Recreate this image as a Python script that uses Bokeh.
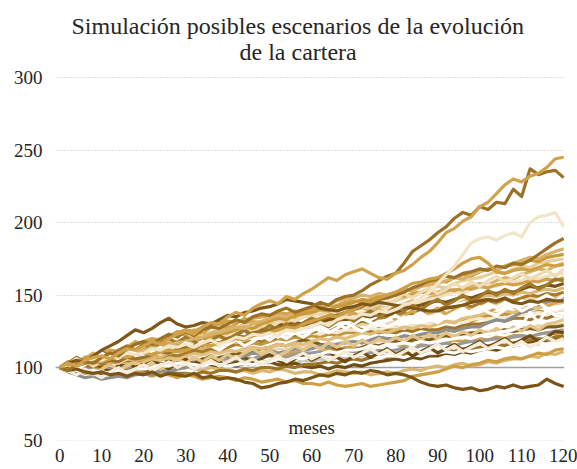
from bokeh.plotting import figure
from bokeh.models import Range1d, Span, Label, FixedTicker
from bokeh.embed import file_html
from bokeh.resources import INLINE

# months (every 2 months) 0..120
meses = list(range(0, 121, 2))

esc01 = [100,103,101,105,107, 108,106,110,113,112, 115,118,116,120,123, 125,123,128,131,130, 135,138,136,141,144, 146,144,149,147,151,
         154,158,162,160,164, 166,168,165,162,161, 165,167,171,176,180, 186,193,196,201,204, 211,214,220,226,230, 228,232,234,238,244, 245]
esc02 = [100,98,102,104,103, 107,110,108,113,116, 118,116,120,123,121, 125,122,126,128,127, 130,133,131,135,137, 136,139,141,138,140,
         142,145,143,147,149, 150,153,157,160,163, 165,172,180,184,188, 193,197,203,207,205, 211,209,214,213,223, 218,237,233,235,236, 231]
esc03 = [100,102,101,104,106, 105,108,107,110,109, 110,113,112,115,114, 116,114,117,119,116, 118,121,120,123,122, 124,122,126,125,127,
         128,131,129,133,135, 134,137,136,139,138, 140,143,145,148,152, 158,164,170,178,186, 189,190,188,191,193, 190,200,204,205,207, 197]
esc04 = [100,98,99,97,96, 97,95,96,94,96, 95,97,94,96,95, 94,96,93,94,92, 93,92,90,89,86, 87,89,90,92,91,
         93,95,94,96,95, 97,96,98,97,95, 96,95,93,90,88, 87,88,86,85,86, 84,85,87,86,88, 86,87,88,92,89, 87]
esc05 = [100,97,98,96,97, 96,98,97,95,97, 96,94,96,95,93, 95,94,92,93,94, 93,91,93,92,90, 91,92,90,91,89,
         89,88,90,88,87, 88,89,87,88,89, 90,91,94,95,96, 97,99,101,100,102, 103,105,104,106,107, 106,108,110,109,112, 113]
esc06 = [100,101,99,98,100, 99,97,98,100,99, 98,100,101,99,100, 101,99,98,100,99, 99,97,98,96,98, 97,99,98,96,97,
         97,95,96,98,97, 96,97,95,96,97, 96,98,99,98,100, 101,100,102,103,101, 102,104,103,105,106, 106,108,107,110,109, 111]
esc07 = [100,97,95,93,94, 92,93,94,93,95, 96,95,98,97,99, 100,102,101,103,102, 104,106,108,110,109, 112,110,111,113,112,
         113,115,114,116,117, 118,117,119,121,120, 120,122,121,123,124, 124,126,125,127,128, 128,131,133,132,135, 138,140,142,145,147, 149]
esc08 = [100,101,99,100,98, 98,99,101,100,99, 100,102,101,103,102, 103,104,103,105,106, 106,107,105,106,108, 108,109,107,109,110,
         110,111,109,110,112, 111,112,110,112,111, 112,114,113,115,116, 116,117,115,117,118, 118,119,120,119,121, 122,121,123,124,125, 126]
esc09 = [100,99,98,97,98, 97,98,96,97,98, 97,99,98,100,99, 100,101,100,102,101, 100,102,103,102,104, 103,105,104,103,105,
         104,106,105,107,106, 107,108,107,109,108, 108,110,109,111,110, 111,112,111,113,112, 113,115,114,116,115, 116,117,116,118,119, 119]
esc10 = [100,103,105,104,108, 112,115,118,122,126, 124,127,131,134,130, 128,129,131,130,133, 136,135,138,139,141, 142,144,147,146,145,
         144,141,140,139,141, 142,144,143,145,144, 143,142,141,140,139, 139,141,142,143,145, 146,147,146,148,145, 144,146,145,147,146, 146]
esc11 = [100,98,97,99,96, 96,98,99,97,100, 100,102,101,103,104, 104,103,106,105,107, 108,110,109,112,113, 114,116,115,117,119,
         118,116,115,113,112, 112,114,116,115,117, 118,117,119,120,119, 121,122,121,123,124, 124,123,125,126,125, 126,127,126,128,128, 129]
esc12 = [100,101,103,102,101, 102,104,105,103,106, 106,105,107,104,105, 104,103,104,102,101, 102,101,103,102,104, 104,102,101,103,101,
         100,101,99,101,100, 102,101,103,104,105, 106,105,107,106,108, 108,110,109,111,110, 112,113,112,114,115, 116,118,117,119,120, 121]
esc13 = [100,102,101,103,105, 104,106,108,107,109, 110,112,111,114,113, 116,115,117,116,118, 118,119,121,120,122, 122,124,123,125,124,
         126,127,126,128,127, 128,126,125,124,125, 124,126,125,127,126, 126,128,127,129,130, 130,131,133,132,134, 134,133,135,134,136, 135]
esc14 = [100,102,101,103,104, 103,105,104,107,106, 107,109,111,110,113, 114,113,116,118,117, 120,122,121,124,125, 126,128,127,130,129,
         131,133,135,136,138, 140,142,145,147,148, 150,152,155,157,160, 161,163,162,165,166, 168,167,170,169,172, 171,174,178,182,186, 189]
esc15 = [100,104,103,106,105, 106,108,110,109,111, 112,115,114,117,116, 118,120,119,122,123, 124,126,128,127,130, 132,134,133,136,137,
         138,140,139,142,143, 145,147,146,149,150, 152,154,153,156,158, 160,159,162,164,163, 166,168,167,170,171, 172,174,173,176,177, 178]
esc16 = [100,101,103,102,104, 104,103,105,106,105, 106,108,107,110,111, 112,114,113,116,117, 118,117,119,121,120, 122,124,123,126,127,
         128,130,131,133,132, 134,136,138,140,141, 142,144,146,145,148, 150,152,154,153,156, 158,157,160,162,161, 164,166,168,167,170, 172]
esc17 = [100,103,105,104,107, 108,110,109,112,113, 114,113,115,114,116, 116,118,117,120,121, 122,124,126,125,128, 130,131,133,132,135,
         136,137,139,138,140, 140,142,141,144,145, 146,148,150,152,154, 156,155,158,160,161, 162,164,166,165,168, 170,169,172,173,174, 175]
esc18 = [100,102,101,104,103, 104,106,108,107,109, 110,109,111,112,111, 112,114,116,115,117, 118,120,119,122,123, 124,126,128,127,130,
         132,134,136,135,138, 140,143,145,148,150, 152,155,158,159,161, 162,165,168,172,175, 176,172,166,165,167, 168,167,169,171,170, 171]
esc19 = [100,102,104,103,105, 106,105,107,109,108, 110,112,111,113,112, 114,116,115,117,116, 118,120,119,121,120, 122,124,123,125,124,
         126,128,127,130,131, 132,134,133,136,137, 138,140,139,142,143, 144,146,145,148,149, 150,152,151,154,155, 156,155,158,159,158, 160]
esc20 = [100,99,98,97,98, 97,96,98,97,99, 99,100,102,101,103, 103,102,101,103,102, 101,102,103,102,104, 104,106,105,107,106,
         108,109,111,110,112, 112,113,115,114,116, 116,117,116,118,117, 118,119,120,121,120, 122,123,124,125,126, 129,138,131,140,136, 135]
esc21 = [100,101,102,101,103, 102,104,103,105,104, 104,106,105,107,106, 106,108,107,109,108, 108,110,109,111,110, 110,112,111,113,112,
         112,111,110,109,110, 110,109,108,107,108, 108,107,109,108,110, 110,111,110,112,111, 112,113,114,113,115, 116,115,117,116,117, 118]
esc22 = [100,102,104,103,105, 105,107,109,108,110, 112,114,113,116,117, 118,117,119,121,120, 122,121,123,125,124, 126,125,127,129,128,
         130,132,131,134,135, 136,138,137,140,141, 142,144,143,146,147, 148,150,152,151,154, 155,157,156,158,159, 160,162,161,163,164, 165]
esc23 = [100,101,103,102,104, 103,105,104,106,107, 108,110,109,112,113, 114,113,115,117,116, 118,117,119,121,120, 122,121,123,122,124,
         124,126,125,127,126, 128,130,129,131,130, 132,134,133,136,137, 138,137,139,141,140, 142,144,143,145,144, 146,148,147,149,148, 150]
esc24 = [100,103,105,104,107, 108,110,109,111,110, 112,114,116,115,118, 120,122,121,124,126, 128,127,130,132,131, 134,133,135,137,136,
         138,137,139,138,140, 140,141,139,142,141, 142,143,142,144,143, 144,146,145,147,146, 148,150,149,151,150, 152,151,153,154,153, 155]
esc25 = [100,102,101,103,102, 104,103,105,104,106, 106,105,107,106,108, 108,110,109,112,113, 114,116,115,117,116, 118,120,119,121,120,
         122,121,123,122,124, 124,126,125,127,126, 128,127,129,128,130, 130,132,131,133,132, 134,136,135,137,136, 138,137,139,138,139, 140]
esc26 = [100,99,101,100,102, 102,104,103,105,104, 106,108,107,109,108, 110,112,111,113,112, 114,116,117,119,118, 120,121,123,122,124,
         124,126,128,127,129, 130,132,131,134,135, 136,138,137,139,138, 140,142,141,143,142, 144,146,145,147,146, 148,150,149,151,150, 152]
esc27 = [100,101,103,102,104, 104,106,108,110,111, 112,114,113,116,117, 118,117,119,121,120, 122,124,123,126,127, 128,130,129,131,130,
         132,131,133,134,133, 134,136,135,137,136, 138,140,142,143,145, 146,145,147,149,148, 150,152,151,153,152, 154,156,155,157,156, 158]
esc28 = [100,103,104,106,105, 106,105,104,103,105, 104,106,105,107,106, 108,110,109,111,110, 112,111,113,114,113, 114,116,115,117,116,
         118,120,119,121,120, 122,124,123,125,124, 126,128,127,129,128, 130,132,131,134,135, 136,138,137,139,138, 140,142,141,143,144, 145]
esc29 = [100,102,101,103,104, 104,106,105,107,108, 110,109,111,110,112, 112,114,113,115,114, 116,118,117,119,118, 120,122,121,123,122,
         124,123,125,124,126, 126,125,127,126,128, 128,127,129,128,130, 130,131,132,131,133, 134,133,135,134,136, 136,137,138,137,139, 140]
esc30 = [100,99,98,99,97, 98,97,99,100,101, 102,101,103,102,104, 104,103,105,104,106, 106,105,107,106,108, 108,110,109,111,110,
         112,111,113,112,114, 114,113,115,114,116, 116,115,117,116,118, 118,117,119,118,120, 120,119,121,120,122, 122,121,123,124,123, 125]
esc31 = [100,101,102,101,103, 102,103,104,103,105, 104,105,106,107,106, 108,107,109,108,110, 110,109,111,110,112, 112,113,112,114,115,
         116,115,117,116,118, 118,117,119,118,120, 120,121,120,122,121, 122,123,122,124,123, 124,125,126,125,127, 128,127,129,128,129, 130]
esc32 = [100,103,102,105,104, 106,108,107,110,111, 112,114,113,116,117, 118,120,121,123,124, 126,128,127,130,132, 134,136,135,138,140,
         142,144,143,146,147, 148,150,149,151,150, 152,154,153,156,157, 158,160,162,161,164, 166,168,167,170,172, 174,176,175,178,180, 182]
esc33 = [100,104,103,107,108, 110,112,111,114,116, 118,120,119,122,124, 126,125,128,129,130, 132,131,133,134,135, 136,138,137,139,138,
         140,142,141,143,145, 146,145,147,149,148, 150,149,151,152,151, 152,154,153,155,154, 156,155,157,158,157, 158,160,159,161,160, 162]
esc34 = [100,101,99,100,101, 100,99,100,98,99, 98,97,96,97,96, 96,95,97,96,98, 98,97,99,98,100, 100,99,101,100,102,
         102,103,104,103,105, 106,105,107,108,107, 108,109,108,110,109, 110,112,111,113,112, 114,115,116,115,117, 118,119,120,119,121, 122]
esc35 = [100,103,98,102,106, 104,108,105,110,107, 111,115,112,116,113, 118,114,117,121,119, 116,120,123,119,122, 125,121,124,128,126,
         129,125,128,131,127, 130,134,131,129,133, 136,132,135,138,134, 131,135,138,136,139, 142,138,136,140,143, 139,142,145,141,140, 142]
esc36 = [100,98,102,105,101, 104,107,103,106,110, 108,112,109,113,117, 114,118,122,119,123, 121,125,129,126,130, 127,131,135,132,136,
         134,138,141,137,140, 144,141,145,148,144, 147,151,148,152,155, 151,154,158,155,159, 156,160,163,159,162, 165,161,164,167,163, 168]
esc37 = [100,102,98,101,104, 100,97,101,104,100, 103,106,102,99,103, 106,102,105,108,104, 101,104,107,103,106, 109,105,102,106,109,
         105,108,111,107,104, 108,111,107,110,113, 109,112,108,111,114, 110,113,116,112,115, 118,114,117,120,116, 119,122,118,121,125, 124]
esc38 = [100,104,101,106,110, 107,112,109,114,118, 115,119,116,121,125, 122,126,123,128,131, 127,130,134,131,129, 132,135,131,134,138,
         135,132,136,139,135, 138,134,137,140,137, 133,136,139,135,138, 141,137,140,143,139, 142,138,141,145,142, 139,143,146,142,145, 147]
esc39 = [100,97,101,98,95, 99,102,98,101,104, 100,103,99,102,106, 103,107,104,108,105, 109,106,110,113,109, 112,108,111,115,112,
         116,113,117,114,118, 115,119,116,120,117, 121,118,122,119,123, 120,124,121,125,122, 126,123,127,124,128, 125,129,126,130,131, 133]
esc40 = [100,102,106,103,107, 110,106,109,113,110, 107,111,114,110,113, 117,114,118,115,112, 116,119,115,118,122, 119,123,120,124,121,
         125,128,124,127,131, 128,125,129,132,128, 131,135,132,136,133, 137,134,138,141,137, 140,144,141,145,142, 146,143,147,150,146, 150]
esc41 = [100,103,107,104,108, 111,108,112,115,112, 116,113,117,120,117, 121,118,115,119,122, 119,123,126,122,125, 129,126,130,127,131,
         134,131,128,132,135, 132,136,139,135,138, 142,139,143,140,144, 147,143,146,150,146, 149,153,150,154,151, 155,158,154,157,161, 160]
esc42 = [100,98,95,99,96, 93,97,100,96,99, 102,98,101,104,100, 103,99,102,105,101, 104,107,103,106,102, 105,108,104,107,110,
         106,109,105,108,111, 107,110,113,109,112, 108,111,114,110,113, 116,112,115,111,114, 117,113,116,119,115, 118,114,117,121,118, 120]

escenarios = [esc30, esc06, esc09, esc12, esc34, esc21, esc05, esc08, esc25, esc31, esc11, esc23, esc13, esc29,
              esc37, esc07, esc28, esc26, esc39, esc20, esc24, esc16, esc42, esc19, esc22, esc38, esc27, esc35, esc17,
              esc33, esc36, esc15, esc41, esc32, esc40, esc14, esc18, esc10, esc04, esc03, esc02, esc01]
colores = ["#cda04a", "#dbb872", "#c8c8c8", "#6f4e14", "#9e7427", "#ffffff", "#cf9f45", "#9a9a9a", "#c4953a", "#ead7ad",
           "#805c1c", "#e9d5a8", "#a17628", "#f4ead4", "#6e4c12", "#8f8f8f", "#e0bf7e", "#a67b2c", "#e3c488", "#ffffff",
           "#dcb975", "#d7b36c", "#f5ecd8", "#ffffff", "#f0e2c2", "#d4a650", "#785515", "#ffffff", "#e6cf9c", "#d1a24c",
           "#efdcb4", "#c9993c", "#a37829", "#d8b16a", "#ffffff", "#9c7226", "#cf9f45", "#7d5819", "#7a5517", "#f2e5c8",
           "#9b7125", "#d0a24b"]

x_ticks = [0, 10, 20, 30, 40, 50, 60, 70, 80, 90, 100, 110, 120]
y_ticks = [50, 100, 150, 200, 250, 300]

titulo_1 = "Simulación posibles escenarios de la evolución"
titulo_2 = "de la cartera"
eje_x = "meses"

SERIF = "Liberation Serif"
TXT = "#262626"

# second title line indented with no-break spaces so it sits centred under the first
titulo = titulo_1 + "\n" + "\u00a0" * 28 + titulo_2

p = figure(width=577, height=469, output_backend="svg", toolbar_location=None,
           x_range=Range1d(-1, 120.2), y_range=Range1d(49.7, 301.4), title=titulo,
           min_border_left=55, min_border_right=13, min_border_top=0, min_border_bottom=29)
p.outline_line_color = None
p.background_fill_color = "white"
p.border_fill_color = "white"

p.title.align = "left"
p.title.offset = 16
p.title.text_font = SERIF
p.title.text_font_size = "24px"
p.title.text_font_style = "normal"
p.title.text_color = TXT
p.title.standoff = 21

p.xgrid.grid_line_color = None
p.ygrid.grid_line_color = "#bdbdbd"
p.ygrid.grid_line_dash = "1 2"
p.ygrid.grid_line_width = 1

for ax in (p.xaxis, p.yaxis):
    ax.axis_line_color = None
    ax.major_tick_line_color = None
    ax.minor_tick_line_color = None
    ax.major_tick_out = 0
    ax.major_tick_in = 0
    ax.major_label_text_font = SERIF
    ax.major_label_text_font_size = "19px"
    ax.major_label_text_color = TXT
p.xaxis.ticker = FixedTicker(ticks=x_ticks)
p.yaxis.ticker = FixedTicker(ticks=y_ticks)
p.xaxis.major_label_standoff = 8
p.yaxis.major_label_standoff = 13

p.add_layout(Span(location=100, dimension="width", line_color="#a0a0a0",
                  line_width=1.5, level="underlay"))

for serie, color in zip(escenarios, colores):
    p.line(meses, serie, line_color=color, line_width=3.2, line_join="round")

p.add_layout(Label(x=60, y=58.5, text=eje_x, text_align="center", text_baseline="alphabetic",
                   text_font=SERIF, text_font_size="19px", text_color=TXT))

open("out.html", "w").write(file_html(p, INLINE))
